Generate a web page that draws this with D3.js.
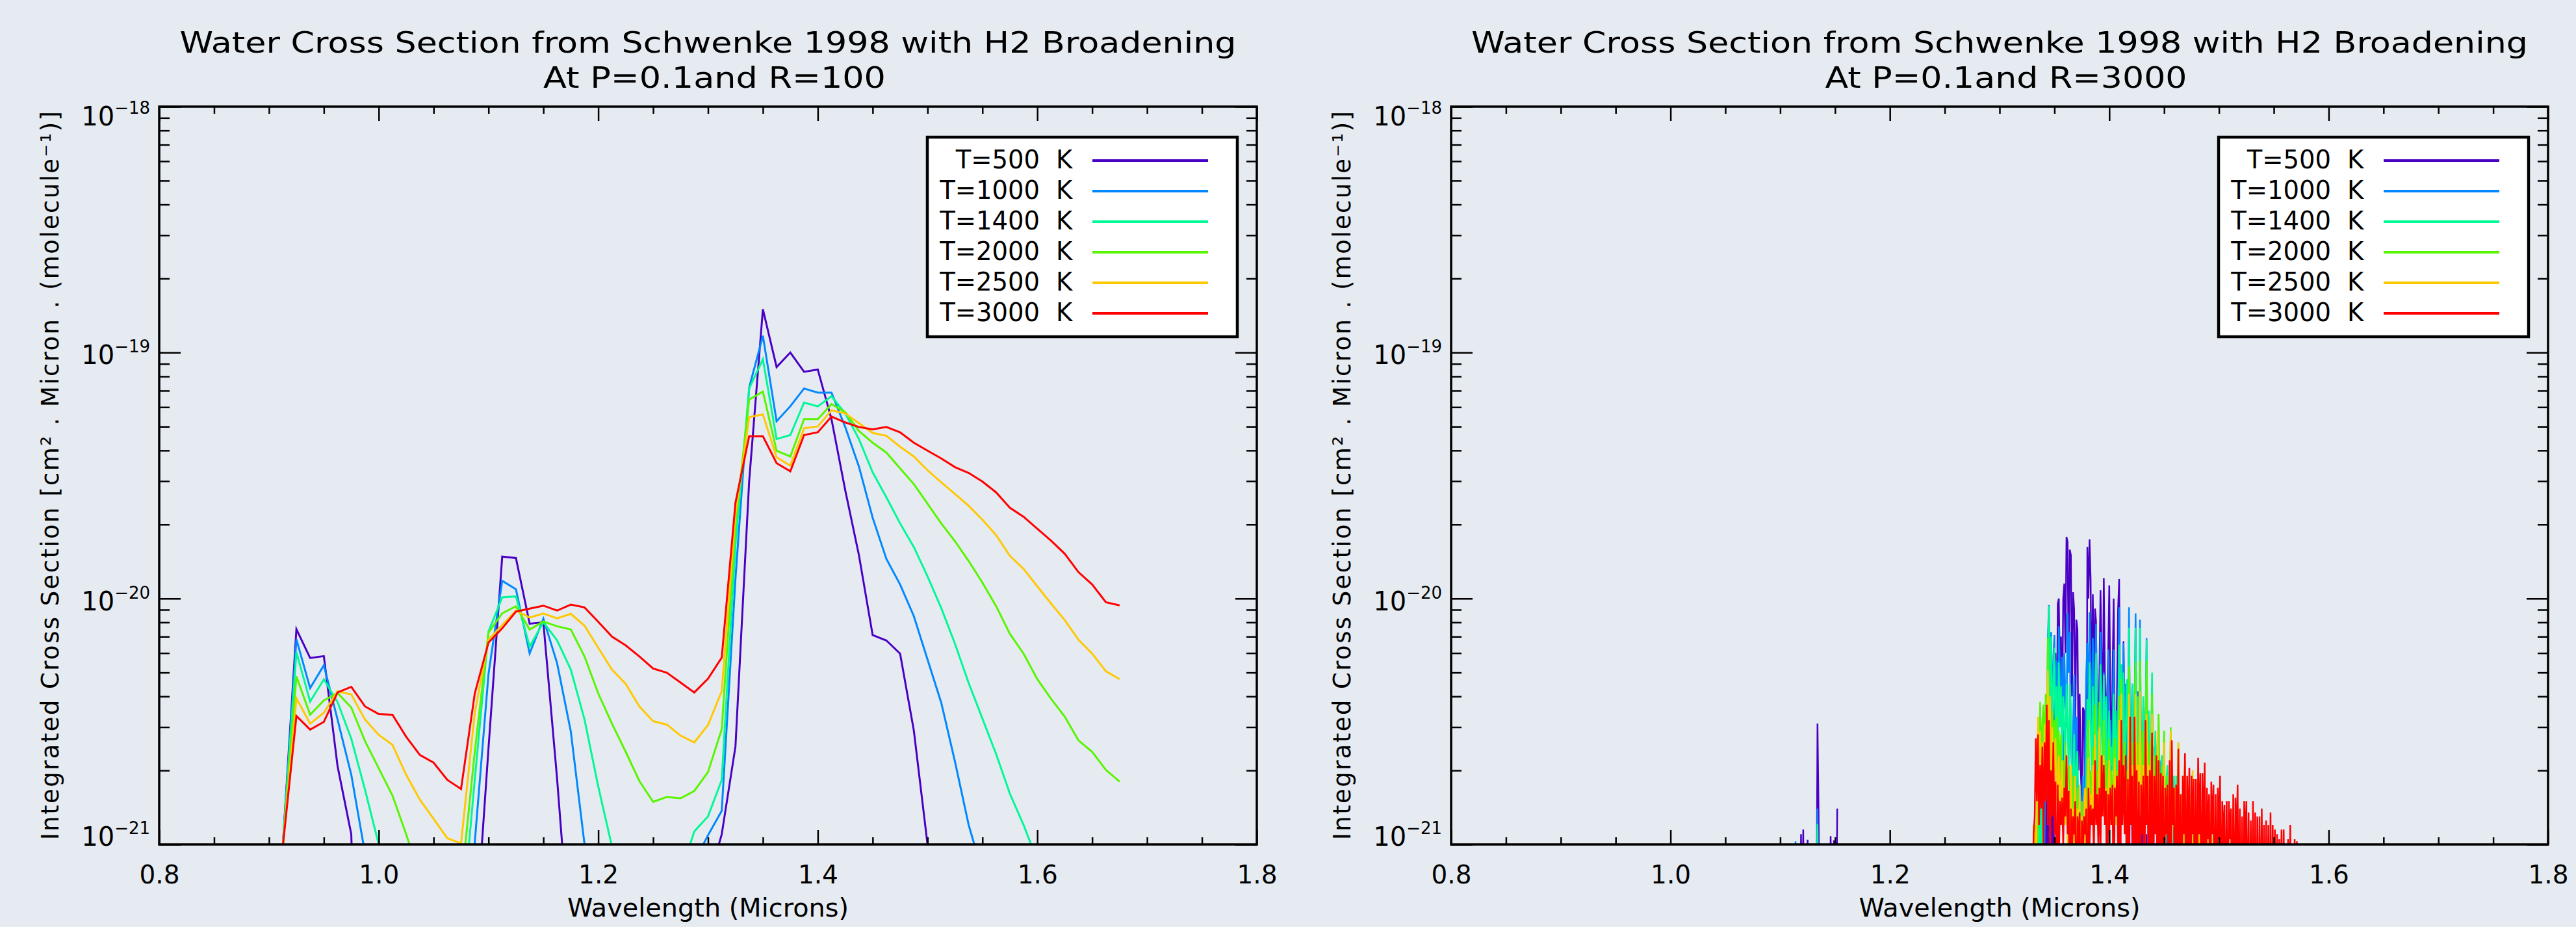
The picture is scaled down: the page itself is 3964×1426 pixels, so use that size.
<!DOCTYPE html>
<html>
<head>
<meta charset="utf-8">
<script src="https://cdn.jsdelivr.net/npm/d3@7/dist/d3.min.js"></script>
<style>
  html, body { margin: 0; padding: 0; background: #e6ebf2; }
  svg { display: block; }
</style>
</head>
<body>
<script>
// ---- labels ----
const titleMain = "Water Cross Section from Schwenke 1998 with H2 Broadening";
const subtitles = ["At P=0.1and R=100", "At P=0.1and R=3000"];
const xTitle = "Wavelength (Microns)";
const yTitle = "Integrated Cross Section [cm\u00b2 . Micron . (molecule\u207b\u00b9)]";
const temps = ["T=500", "T=1000", "T=1400", "T=2000", "T=2500", "T=3000"];
const colors = ["#4a00c4", "#0088ff", "#00f896", "#58f500", "#ffc800", "#ff0000"];

const xMajor = [0.8, 1.0, 1.2, 1.4, 1.6, 1.8];
const xTickLabels = ["0.8", "1.0", "1.2", "1.4", "1.6", "1.8"];
const xMinor = [0.85, 0.9, 0.95, 1.05, 1.1, 1.15, 1.25, 1.3, 1.35, 1.45, 1.5, 1.55, 1.65, 1.7, 1.75];
// y values are in units of 1e-21
const yMajor = [1, 10, 100, 1000];
const yExpLabels = ["\u221221", "\u221220", "\u221219", "\u221218"];
const yMinor = [2, 3, 4, 5, 6, 7, 8, 9, 20, 30, 40, 50, 60, 70, 80, 90, 200, 300, 400, 500, 600, 700, 800, 900];

// ---- R=100 panel (cross section, 1e-21 units) ----
const wlLo = [0.9, 0.9125, 0.925, 0.9375, 0.95, 0.9625, 0.975, 0.9875, 1.0, 1.0125,
  1.025, 1.0375, 1.05, 1.0625, 1.075, 1.0875, 1.1, 1.1125, 1.125, 1.1375,
  1.15, 1.1625, 1.175, 1.1875, 1.2, 1.2125, 1.225, 1.2375, 1.25, 1.2625,
  1.275, 1.2875, 1.3, 1.3125, 1.325, 1.3375, 1.35, 1.3625, 1.375, 1.3875,
  1.4, 1.4125, 1.425, 1.4375, 1.45, 1.4625, 1.475, 1.4875, 1.5, 1.5125,
  1.525, 1.5375, 1.55, 1.5625, 1.575, 1.5875, 1.6, 1.6125, 1.625, 1.6375,
  1.65, 1.6625, 1.675];
const lo500 = [0.01, 0.97, 7.5, 5.73, 5.83, 2.08, 1.1, 0.01, 0.01, 0.01,
  0.01, 0.01, 0.01, 0.01, 0.01, 0.38, 2.46, 14.8, 14.6, 7.9,
  8.0, 1.85, 0.35, 0.01, 0.01, 0.01, 0.01, 0.01, 0.01, 0.01,
  0.01, 0.01, 0.7, 1.1, 2.5, 30, 150, 87.3, 100, 83.5,
  85.3, 53.6, 27.6, 15, 7.1, 6.75, 5.97, 2.91, 1.0, 0.01,
  0.01, 0.01, 0.01, 0.01, 0.01, 0.01, 0.01, 0.01, 0.01, 0.01,
  0.01, 0.01, 0.01];
const lo1000 = [0.01, 0.97, 6.83, 4.32, 5.35, 3.22, 1.92, 0.92, 0.01, 0.01,
  0.01, 0.01, 0.01, 0.01, 0.01, 1.02, 4.93, 11.8, 10.9, 5.98,
  8.28, 5.46, 2.88, 1.0, 0.01, 0.01, 0.01, 0.01, 0.01, 0.01,
  0.01, 0.85, 1.09, 1.37, 12, 72, 117, 52.6, 60.5, 71.4,
  68.7, 68.7, 49.8, 34.4, 21.3, 14.5, 11.4, 8.48, 5.65, 3.77,
  2.17, 1.2, 0.77, 0.01, 0.01, 0.01, 0.01, 0.01, 0.01, 0.01,
  0.01, 0.01, 0.01];
const lo1400 = [0.01, 0.97, 6.05, 3.81, 4.69, 3.79, 2.69, 1.67, 1.0, 0.01,
  0.01, 0.01, 0.01, 0.01, 0.44, 1.83, 7.33, 10.1, 10.2, 6.37,
  8.0, 6.76, 5.14, 3.22, 1.72, 0.98, 0.01, 0.01, 0.01, 0.01,
  0.76, 1.13, 1.3, 1.83, 16.5, 71.4, 94, 44.5, 46.2, 62.6,
  60.4, 66.4, 56.6, 44.5, 32.6, 25.8, 20.2, 16.2, 12.3, 9.14,
  6.55, 4.53, 3.25, 2.33, 1.61, 1.2, 0.86, 0.01, 0.01, 0.01,
  0.01, 0.01, 0.01];
const lo2000 = [0.01, 0.97, 4.82, 3.37, 3.85, 4.13, 3.6, 2.63, 2.04, 1.58,
  1.1, 0.74, 0.01, 0.01, 0.68, 2.38, 7.26, 8.71, 9.29, 7.48,
  8.06, 7.71, 7.48, 5.81, 4.11, 3.1, 2.38, 1.81, 1.49, 1.56,
  1.54, 1.65, 1.97, 2.94, 20, 64.4, 69.4, 39.9, 37.8, 53.6,
  53.6, 61.7, 57.3, 48, 43, 39.2, 33.8, 29.2, 24.3, 20.2,
  17.1, 14.2, 11.6, 9.31, 7.19, 5.97, 4.7, 3.91, 3.31, 2.65,
  2.38, 2.01, 1.8];
const lo2500 = [0.01, 0.97, 3.93, 3.1, 3.43, 4.2, 4.07, 3.22, 2.79, 2.54,
  1.92, 1.52, 1.27, 1.06, 1.01, 3.43, 6.8, 7.8, 8.93, 8.37,
  8.68, 8.31, 8.66, 7.75, 6.3, 5.14, 4.5, 3.64, 3.17, 3.07,
  2.77, 2.6, 3.06, 4.2, 22.1, 54.6, 56, 37.5, 34.7, 49.2,
  50.1, 58.2, 56.6, 51.6, 47.1, 45.9, 41.4, 37.8, 33.2, 29.7,
  26.6, 23.8, 20.9, 18.1, 14.9, 13.2, 11.2, 9.55, 8.17, 6.8,
  5.97, 5.06, 4.7];
const lo3000 = [0.01, 0.97, 3.33, 2.93, 3.15, 4.15, 4.37, 3.64, 3.39, 3.37,
  2.74, 2.31, 2.15, 1.83, 1.68, 4.11, 6.62, 7.56, 8.85, 9.1,
  9.35, 8.93, 9.44, 9.2, 8.04, 7.0, 6.45, 5.81, 5.19, 4.99,
  4.55, 4.15, 4.72, 5.75, 24.5, 45.7, 45.7, 35.5, 32.9, 46.2,
  47.4, 54.9, 52, 49.8, 48.7, 49.8, 47.4, 43, 39.9, 37.1,
  34.2, 32.4, 29.9, 27, 23.4, 21.5, 19.2, 17.2, 15.2, 12.8,
  11.4, 9.66, 9.38];

// ---- R=3000 panel, lines near 1.13 micron (1e-21 units, 0 = below axis) ----
const wlHiA = [1.110, 1.111, 1.112, 1.113, 1.114, 1.115, 1.116, 1.117, 1.118, 1.119,
  1.120, 1.121, 1.122, 1.123, 1.124, 1.125, 1.126, 1.127, 1.128, 1.129,
  1.130, 1.131, 1.132, 1.133, 1.134, 1.135, 1.136, 1.137, 1.138, 1.139,
  1.140, 1.141, 1.142, 1.143, 1.144, 1.145, 1.146, 1.147, 1.148, 1.149,
  1.150, 1.151, 1.152];
const hiA500 = [0, 0, 0, 0, 0, 0, 0, 0, 0, 1.1,
  0, 1.15, 0, 0, 0, 1.045, 0, 0, 0, 0,
  0, 0, 0, 0, 3.1, 1.36, 0, 0, 0, 0,
  0, 0, 0, 0, 0, 0, 1.08, 0, 0, 1.04,
  0, 0, 1.4];
const hiA1000 = [0, 0, 0, 0, 1.03, 0, 0, 0, 0, 0,
  0, 0, 0, 0, 0, 0, 0, 0, 0, 0,
  0, 0, 0, 0, 1.4, 0, 0];
const hiA1400 = [0, 0, 0, 0, 0, 0, 0, 0, 0, 0,
  0, 0, 0, 0, 0, 0, 0, 0, 0, 0,
  0, 0, 0, 0, 1.21, 0, 0];

// ---- R=3000 panel, main band ----
const wlHiB = [1.330, 1.331, 1.332, 1.333, 1.334, 1.335, 1.336, 1.337, 1.338, 1.339,
  1.340, 1.341, 1.342, 1.343, 1.344, 1.345, 1.346, 1.347, 1.348, 1.349,
  1.350, 1.351, 1.352, 1.353, 1.354, 1.355, 1.356, 1.357, 1.358, 1.359,
  1.360, 1.361, 1.362, 1.363, 1.364, 1.365, 1.366, 1.367, 1.368, 1.369,
  1.370, 1.371, 1.372, 1.373, 1.374, 1.375, 1.376, 1.377, 1.378, 1.379,
  1.380, 1.381, 1.382, 1.383, 1.384, 1.385, 1.386, 1.387, 1.388, 1.389,
  1.390, 1.391, 1.392, 1.393, 1.394, 1.395, 1.396, 1.397, 1.398, 1.399,
  1.400, 1.401, 1.402, 1.403, 1.404, 1.405, 1.406, 1.407, 1.408, 1.409,
  1.410, 1.411, 1.412, 1.413, 1.414, 1.415, 1.416, 1.417, 1.418, 1.419,
  1.420, 1.421, 1.422, 1.423, 1.424, 1.425, 1.426, 1.427, 1.428, 1.429,
  1.430, 1.431, 1.432, 1.433, 1.434, 1.435, 1.436, 1.437, 1.438, 1.439,
  1.440, 1.441, 1.442, 1.443, 1.444, 1.445, 1.446, 1.447, 1.448, 1.449,
  1.450, 1.451, 1.452, 1.453, 1.454, 1.455, 1.456, 1.457, 1.458, 1.459,
  1.460, 1.461, 1.462, 1.463, 1.464, 1.465, 1.466, 1.467, 1.468, 1.469,
  1.470, 1.471, 1.472, 1.473, 1.474, 1.475, 1.476, 1.477, 1.478, 1.479,
  1.480, 1.481, 1.482, 1.483, 1.484, 1.485, 1.486, 1.487, 1.488, 1.489,
  1.490, 1.491, 1.492, 1.493, 1.494, 1.495, 1.496, 1.497, 1.498, 1.499,
  1.500, 1.501, 1.502, 1.503, 1.504, 1.505, 1.506, 1.507, 1.508, 1.509,
  1.510, 1.511, 1.512, 1.513, 1.514, 1.515, 1.516, 1.517, 1.518, 1.519,
  1.520, 1.521, 1.522, 1.523, 1.524, 1.525, 1.526, 1.527, 1.528, 1.529,
  1.530, 1.531, 1.532, 1.533, 1.534, 1.535, 1.536, 1.537, 1.538, 1.539,
  1.540, 1.541, 1.542, 1.543, 1.544, 1.545, 1.546, 1.547, 1.548, 1.549,
  1.550, 1.551, 1.552, 1.553, 1.554, 1.555, 1.556, 1.557, 1.558, 1.559,
  1.560, 1.561, 1.562, 1.563, 1.564, 1.565, 1.566, 1.567, 1.568, 1.569,
  1.570, 1.571, 1.572];
const hiB500 = [0, 0, 0, 0, 0, 0, 0, 0, 0, 0,
  1.5, 0, 2.5, 0, 3.5, 0, 4.5, 1.0, 5.0, 0,
  3.0, 6.0, 2.0, 9.5, 10.0, 5.0, 7.0, 3.0, 10.0, 11.5,
  6.0, 17.8, 17.0, 5.0, 15.8, 15.0, 4.0, 10.6, 9.0, 3.0,
  8.2, 7.5, 2.0, 4.1, 2.0, 1.5, 3.6, 3.5, 1.2, 0,
  16.2, 10.0, 17.4, 12.0, 3.0, 10.4, 4.0, 9.1, 8.0, 2.0,
  3.0, 5.0, 10.8, 6.0, 3.0, 12.1, 5.0, 2.5, 4.0, 6.0,
  11.3, 4.0, 2.0, 5.0, 10.0, 3.0, 2.0, 4.0, 9.0, 12.0,
  3.0, 4.5, 2.0, 6.7, 3.0, 2.0, 4.6, 1.5, 3.0, 1.2,
  2.5, 1.0, 2.2, 0, 1.8, 0, 1.5, 0, 1.3, 0,
  1.2, 0, 0, 0, 1.1, 0, 0];
const hiB1000 = [0, 0, 0, 0, 0, 0, 1.2, 0, 1.5, 0,
  2.5, 1.0, 3.0, 2.0, 7.0, 9.4, 4.0, 7.3, 3.0, 5.8,
  7.1, 3.0, 5.6, 2.5, 7.7, 5.0, 3.0, 5.8, 2.0, 6.0,
  4.0, 3.0, 8.7, 5.0, 7.3, 2.5, 2.0, 3.0, 4.9, 2.0,
  3.3, 1.5, 1.2, 1.75, 0, 1.5, 1.9, 0, 2.5, 5.0,
  6.6, 3.0, 8.8, 5.0, 3.0, 6.9, 3.0, 5.0, 7.9, 2.5,
  3.6, 2.0, 7.3, 4.0, 2.5, 5.0, 2.0, 3.2, 2.0, 6.2,
  2.5, 3.2, 2.0, 3.0, 6.2, 2.0, 3.2, 1.8, 3.0, 9.2,
  3.0, 5.4, 2.0, 6.6, 2.5, 4.5, 2.0, 3.0, 9.2, 2.5,
  3.0, 4.5, 2.0, 3.5, 8.7, 2.5, 4.2, 2.0, 8.2, 2.5,
  2.0, 3.6, 2.0, 3.0, 6.9, 2.0, 3.2, 1.5, 2.5, 4.0,
  1.5, 2.5, 1.5, 2.0, 2.6, 1.2, 2.2, 1.0, 1.8, 1.2,
  2.1, 1.0, 1.6, 0, 1.5, 0, 1.7, 0, 1.3, 0,
  1.4, 0, 1.2, 0, 1.35, 0, 1.1, 0, 1.0, 0,
  0];
const hiB1400 = [0, 0, 1.2, 0, 1.5, 0, 2.0, 0, 2.5, 1.0,
  3.0, 1.5, 3.5, 2.0, 6.0, 9.3, 3.5, 7.0, 2.5, 4.7,
  6.3, 2.5, 4.4, 2.0, 5.5, 3.0, 4.4, 2.0, 4.0, 3.0,
  2.5, 4.5, 3.0, 2.0, 4.5, 3.5, 2.0, 1.5, 2.8, 1.5,
  2.0, 2.4, 1.2, 1.75, 0, 1.2, 0, 1.4, 0, 2.0,
  3.9, 2.5, 5.5, 3.0, 2.0, 4.4, 2.0, 3.0, 6.0, 2.0,
  2.9, 2.0, 5.4, 3.0, 2.0, 4.9, 2.0, 4.0, 1.8, 2.5,
  3.5, 2.0, 2.5, 2.0, 4.1, 2.0, 3.5, 1.8, 3.0, 6.5,
  2.5, 5.4, 2.0, 5.0, 2.0, 3.0, 4.7, 2.0, 7.6, 2.5,
  2.0, 4.5, 2.0, 3.0, 7.6, 2.0, 4.0, 2.0, 7.6, 2.0,
  2.0, 4.0, 1.8, 3.0, 6.8, 2.0, 3.5, 1.8, 2.5, 5.0,
  1.8, 2.0, 2.9, 1.5, 2.0, 3.4, 1.5, 1.8, 2.3, 1.3,
  2.9, 1.2, 1.8, 2.1, 1.0, 1.6, 2.4, 1.0, 1.4, 1.9,
  0.8, 1.9, 1.0, 1.4, 0, 1.6, 0, 1.2, 0, 1.6,
  0, 1.2, 0, 1.4, 0, 1.1, 0, 1.35, 0, 1.0,
  0, 1.1, 0, 1.3, 0, 1.0, 0, 1.2, 0, 0,
  1.05, 0, 0, 1.13, 0, 0, 0, 0, 0, 0,
  0];
const hiB2000 = [0, 0, 0, 1.2, 0, 1.8, 2.5, 3.8, 2.0, 3.2,
  3.7, 2.0, 4.1, 2.5, 6.9, 3.0, 3.8, 2.0, 3.5, 2.0,
  3.2, 2.0, 3.3, 1.8, 2.9, 1.8, 2.8, 1.5, 2.2, 1.5,
  2.6, 1.5, 2.0, 2.1, 1.2, 1.8, 1.0, 1.9, 1.0, 1.5,
  1.0, 1.7, 0, 1.3, 0, 1.5, 0, 1.2, 0, 1.5,
  2.0, 3.2, 1.5, 2.0, 1.2, 2.5, 1.5, 3.7, 1.5, 2.0,
  1.5, 3.8, 1.8, 2.0, 1.5, 3.2, 1.5, 2.2, 1.2, 2.0,
  2.7, 1.5, 2.0, 1.2, 2.2, 2.7, 1.5, 2.0, 1.5, 4.0,
  2.0, 4.7, 1.5, 2.2, 2.6, 1.5, 2.0, 1.5, 5.3, 2.0,
  1.8, 2.6, 1.5, 2.5, 5.5, 1.5, 2.6, 1.5, 5.6, 1.8,
  1.5, 2.9, 1.5, 2.5, 5.6, 1.5, 2.6, 1.5, 2.2, 4.1,
  1.5, 1.8, 2.3, 1.2, 2.0, 3.4, 1.2, 1.5, 2.1, 1.2,
  2.9, 1.0, 1.5, 1.9, 1.0, 1.5, 3.0, 1.0, 1.4, 1.2,
  1.7, 0, 1.4, 2.6, 0, 1.3, 1.6, 0, 1.3, 2.1,
  0, 1.2, 1.5, 0, 1.1, 1.9, 0, 1.0, 1.2, 1.4,
  0, 1.0, 1.1, 0, 1.35, 0, 1.0, 1.3, 0, 1.1,
  0, 1.25, 0, 1.0, 0, 1.18, 0, 0, 1.0, 0,
  0, 1.13, 0, 0, 1.0, 0, 0, 1.08, 0, 0,
  0];
const hiB2500 = [0, 1.2, 1.2, 0, 1.8, 3.3, 2.0, 2.9, 1.5, 2.6,
  1.8, 3.1, 1.5, 2.2, 5.1, 2.0, 4.0, 1.5, 3.0, 1.5,
  2.0, 2.7, 1.5, 1.8, 2.3, 1.2, 1.8, 2.2, 1.2, 1.6,
  1.2, 2.3, 1.0, 1.6, 1.0, 2.1, 1.0, 1.4, 1.0, 1.9,
  0, 1.4, 1.0, 1.75, 0, 1.3, 0, 1.5, 1.7, 0,
  1.5, 2.25, 1.2, 1.6, 1.2, 2.1, 1.2, 2.8, 1.3, 1.6,
  1.3, 3.0, 1.5, 1.8, 1.3, 2.3, 1.2, 1.7, 1.2, 1.5,
  2.2, 1.2, 1.6, 1.2, 1.5, 2.25, 1.2, 1.7, 1.3, 3.2,
  1.5, 4.1, 1.3, 1.6, 2.1, 1.2, 1.8, 1.3, 4.1, 1.5,
  1.3, 2.1, 1.3, 1.8, 4.1, 1.2, 2.1, 1.3, 4.2, 1.5,
  1.3, 2.1, 1.2, 1.8, 3.4, 1.3, 2.1, 1.2, 1.6, 3.4,
  1.3, 1.5, 1.9, 1.2, 2.9, 1.2, 1.4, 1.8, 1.1, 1.5,
  2.6, 1.1, 1.3, 1.7, 1.0, 1.5, 2.9, 1.0, 1.3, 1.2,
  1.7, 1.0, 1.3, 2.6, 1.0, 1.2, 1.6, 0, 1.3, 2.2,
  1.0, 1.2, 1.6, 0, 1.2, 1.5, 2.0, 0, 1.2, 1.5,
  0, 1.5, 1.2, 0, 1.3, 1.0, 0, 1.5, 1.1, 0,
  1.2, 0, 1.35, 1.0, 0, 1.2, 0, 1.3, 0, 1.1,
  0, 1.0, 1.2, 1.25, 0, 1.0, 0, 1.15, 0, 1.0,
  0, 1.16, 0, 1.0, 0, 1.1, 0, 0, 1.05, 0,
  0, 1.08, 0, 0, 1.0, 0, 0, 1.04, 0, 0,
  0];
const hiB3000 = [0, 1.1, 1.3, 2.7, 1.5, 2.8, 1.2, 2.1, 1.4, 2.5,
  1.0, 2.6, 1.5, 3.7, 1.2, 3.2, 0.9, 2.0, 1.3, 2.6,
  1.1, 1.8, 0, 1.75, 0.8, 1.5, 1.2, 1.55, 1.0, 1.7,
  1.3, 2.3, 1.1, 1.65, 0, 1.4, 0.9, 1.3, 1.1, 1.5,
  0, 1.3, 1.0, 1.35, 0, 1.25, 0.9, 1.3, 1.1, 1.4,
  0, 1.7, 1.0, 1.45, 1.2, 1.4, 0.9, 2.2, 1.2, 1.6,
  1.0, 1.7, 0.9, 2.3, 1.3, 2.1, 1.2, 1.65, 0, 1.6,
  1.1, 1.7, 1.2, 1.75, 0, 1.7, 1.3, 1.9, 1.0, 2.2,
  0, 3.2, 1.2, 2.1, 1.1, 2.3, 0, 1.85, 0, 3.3,
  1.2, 1.9, 0, 3.3, 1.0, 2.0, 0, 1.8, 0, 1.75,
  1.1, 1.9, 0, 3.2, 1.2, 1.9, 0, 2.0, 1.0, 2.85,
  0, 1.9, 1.1, 2.3, 0, 2.2, 0, 1.95, 1.0, 1.9,
  0, 1.7, 1.1, 1.75, 0, 2.2, 0, 2.65, 1.2, 1.7,
  0, 1.75, 1.0, 2.45, 0, 1.6, 0, 1.9, 1.1, 2.35,
  0, 1.9, 1.0, 2.05, 0, 1.9, 1.1, 1.85, 0, 1.85,
  0, 2.25, 1.1, 1.95, 0, 1.95, 1.0, 2.15, 0, 1.7,
  1.05, 1.6, 0, 1.8, 1.1, 1.75, 0, 1.6, 0, 1.7,
  1.05, 1.9, 0, 1.5, 1.0, 1.45, 0, 1.5, 0, 1.5,
  1.05, 1.4, 0, 1.6, 0, 1.55, 1.0, 1.75, 0, 1.4,
  0, 1.3, 0, 1.5, 1.0, 1.5, 0, 1.35, 0, 1.25,
  0, 1.5, 0, 1.35, 0, 1.3, 0, 1.3, 0, 1.4,
  0, 1.2, 0, 1.25, 0, 1.2, 0, 1.35, 0, 1.2,
  0, 1.15, 0, 1.1, 0, 1.05, 0, 1.15, 0, 1.15,
  0, 1.0, 0, 1.05, 0, 1.2, 0, 0.9, 0, 1.05,
  0, 1.03, 0];

// ---- layout ----
const W = 3964, H = 1426;
const BG = "#e6ebf2";
const FONT = "DejaVu Sans";
const yTop = 164, yBot = 1299;

const panels = [
  { x0: 245, x1: 1934, sub: subtitles[0], subW: 527, floor: 0.01, lw: 3, join: "miter",
    segments: [{ wl: wlLo, series: [lo500, lo1000, lo1400, lo2000, lo2500, lo3000] }] },
  { x0: 2233, x1: 3921, sub: subtitles[1], subW: 557, floor: 0.4, lw: 2.5, join: "bevel",
    segments: [{ wl: wlHiA, series: [hiA500, hiA1000, hiA1400] },
               { wl: wlHiB, series: [hiB500, hiB1000, hiB1400, hiB2000, hiB2500, hiB3000] }] }
];

const svg = d3.select("body").append("svg")
  .attr("width", W).attr("height", H)
  .attr("font-family", FONT);

svg.append("rect").attr("width", W).attr("height", H).attr("fill", BG);

const y = d3.scaleLog().domain([1, 1000]).range([yBot, yTop]);

function styleAxis(g) {
  g.select(".domain").remove();
  g.selectAll("line").attr("stroke", "#000").attr("stroke-width", 2.5);
}

panels.forEach((p, pi) => {
  const x = d3.scaleLinear().domain([0.8, 1.8]).range([p.x0, p.x1]);
  const cx = (p.x0 + p.x1) / 2;

  const clipId = "plotclip" + pi;
  svg.append("clipPath").attr("id", clipId)
    .append("rect")
    .attr("x", p.x0).attr("y", yTop)
    .attr("width", p.x1 - p.x0).attr("height", yBot - yTop);

  const line = d3.line()
    .x(d => x(d[0]))
    .y(d => y(Math.max(d[1], p.floor)));

  // curves, coolest first so the 3000 K curve ends up on top
  const plot = svg.append("g").attr("clip-path", `url(#${clipId})`);
  colors.forEach((c, ci) => {
    p.segments.forEach(seg => {
      const vals = seg.series[ci];
      if (!vals) return;
      plot.append("path")
        .datum(vals.map((v, i) => [seg.wl[i], v]))
        .attr("fill", "none")
        .attr("stroke", c)
        .attr("stroke-width", p.lw)
        .attr("stroke-linejoin", p.join)
        .attr("d", line);
    });
  });

  // x ticks, bottom and top
  svg.append("g").attr("transform", `translate(0,${yBot})`)
    .call(d3.axisBottom(x).tickValues(xMinor).tickSize(-11).tickFormat("")).call(styleAxis);
  svg.append("g").attr("transform", `translate(0,${yBot})`)
    .call(d3.axisBottom(x).tickValues(xMajor).tickSize(-22).tickFormat("")).call(styleAxis);
  svg.append("g").attr("transform", `translate(0,${yTop})`)
    .call(d3.axisTop(x).tickValues(xMinor).tickSize(-11).tickFormat("")).call(styleAxis);
  svg.append("g").attr("transform", `translate(0,${yTop})`)
    .call(d3.axisTop(x).tickValues(xMajor).tickSize(-22).tickFormat("")).call(styleAxis);

  // x tick labels
  svg.append("g").attr("transform", `translate(0,${yBot})`)
    .call(d3.axisBottom(x).tickValues(xMajor).tickSize(0).tickPadding(32)
      .tickFormat((d, i) => xTickLabels[i]))
    .call(g => g.select(".domain").remove())
    .attr("font-size", 39).attr("font-family", FONT);

  // y ticks, left and right
  svg.append("g").attr("transform", `translate(${p.x0},0)`)
    .call(d3.axisLeft(y).tickValues(yMinor).tickSize(-16).tickFormat("")).call(styleAxis);
  svg.append("g").attr("transform", `translate(${p.x0},0)`)
    .call(d3.axisLeft(y).tickValues(yMajor).tickSize(-33).tickFormat("")).call(styleAxis);
  svg.append("g").attr("transform", `translate(${p.x1},0)`)
    .call(d3.axisRight(y).tickValues(yMinor).tickSize(-16).tickFormat("")).call(styleAxis);
  svg.append("g").attr("transform", `translate(${p.x1},0)`)
    .call(d3.axisRight(y).tickValues(yMajor).tickSize(-33).tickFormat("")).call(styleAxis);

  // y tick labels 10^n, end labels kept inside the axis range
  yMajor.forEach((v, i) => {
    const base = Math.min(Math.max(y(v) + 18, yTop + 29), yBot + 2);
    const t = svg.append("text")
      .attr("x", p.x0 - 14).attr("y", base)
      .attr("text-anchor", "end").attr("font-size", 40);
    t.append("tspan").text("10");
    t.append("tspan").attr("dy", -18).attr("font-size", 26).text(yExpLabels[i]);
  });

  // frame
  svg.append("rect")
    .attr("x", p.x0).attr("y", yTop)
    .attr("width", p.x1 - p.x0).attr("height", yBot - yTop)
    .attr("fill", "none").attr("stroke", "#000").attr("stroke-width", 3.5);

  // titles
  svg.append("text")
    .attr("x", cx).attr("y", 81).attr("text-anchor", "middle")
    .attr("font-size", 45)
    .attr("textLength", 1626).attr("lengthAdjust", "spacingAndGlyphs")
    .text(titleMain);
  svg.append("text")
    .attr("x", cx + 10).attr("y", 135).attr("text-anchor", "middle")
    .attr("font-size", 45)
    .attr("textLength", p.subW).attr("lengthAdjust", "spacingAndGlyphs")
    .text(p.sub);

  svg.append("text")
    .attr("x", cx).attr("y", 1410).attr("text-anchor", "middle")
    .attr("font-size", 39)
    .attr("textLength", 433).attr("lengthAdjust", "spacingAndGlyphs")
    .text(xTitle);

  svg.append("text")
    .attr("transform", `translate(${p.x0 - 155},${(yTop + yBot) / 2}) rotate(-90)`)
    .attr("text-anchor", "middle")
    .attr("font-size", 37)
    .attr("textLength", 1121).attr("lengthAdjust", "spacing")
    .text(yTitle);

  // legend
  const lg = svg.append("g");
  lg.append("rect")
    .attr("x", p.x1 - 507).attr("y", 211)
    .attr("width", 477).attr("height", 307)
    .attr("fill", "#fff").attr("stroke", "#000").attr("stroke-width", 4.5);
  temps.forEach((t, i) => {
    const yc = 247 + 47 * i;
    lg.append("text").attr("x", p.x1 - 334).attr("y", yc + 11.5)
      .attr("text-anchor", "end").attr("font-size", 38.5).text(t);
    lg.append("text").attr("x", p.x1 - 309).attr("y", yc + 11.5)
      .attr("font-size", 38.5).text("K");
    lg.append("line")
      .attr("x1", p.x1 - 253).attr("x2", p.x1 - 75)
      .attr("y1", yc).attr("y2", yc)
      .attr("stroke", colors[i]).attr("stroke-width", 4);
  });
});
</script>
</body>
</html>
